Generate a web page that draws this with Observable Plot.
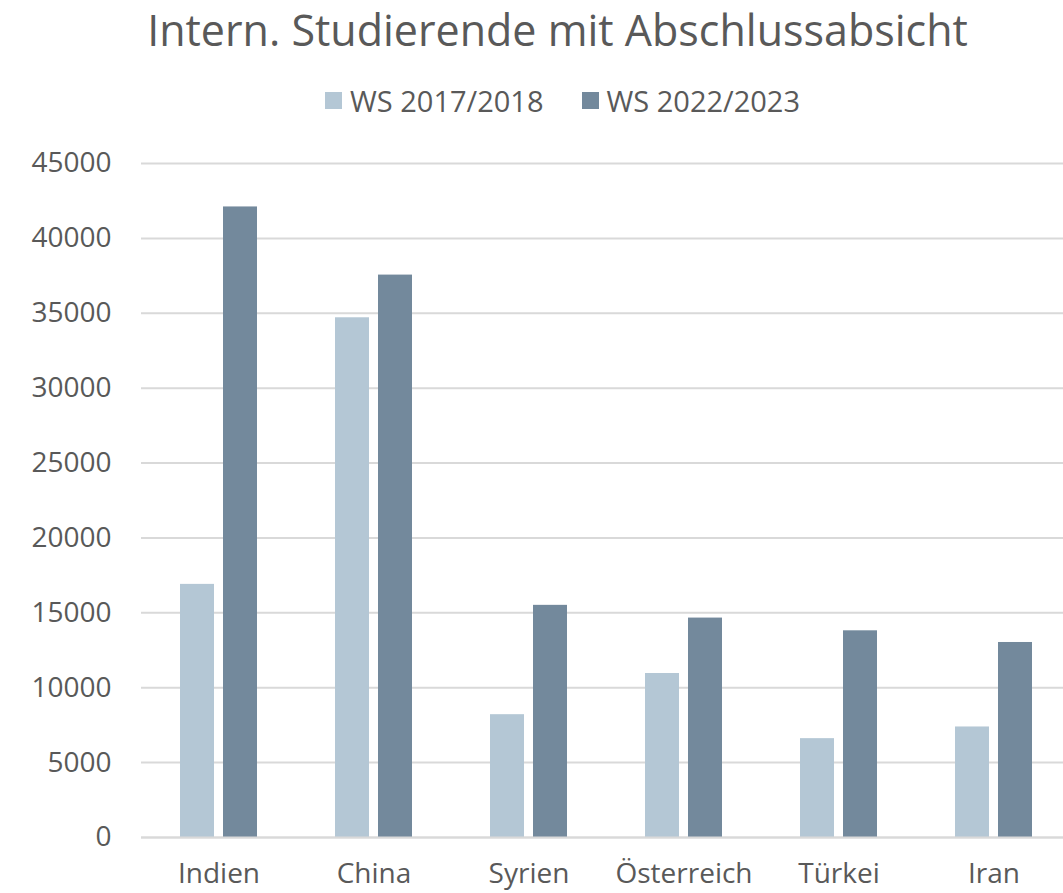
<!DOCTYPE html>
<html>
<head>
<meta charset="utf-8">
<script src="https://cdn.jsdelivr.net/npm/d3@7"></script>
<script src="https://cdn.jsdelivr.net/npm/@observablehq/plot@0.6"></script>
<style>
  html, body { margin: 0; padding: 0; background: #fff; }
  body { width: 1063px; height: 893px; position: relative; overflow: hidden; font-family: "Open Sans", sans-serif; color: #595959; }
  #title { position: absolute; top: 0px; left: 0; width: 1115px; text-align: center; font-size: 43px; white-space: nowrap; }
  #legend { position: absolute; top: 81px; left: 325px; font-size: 29px; white-space: nowrap; display: flex; align-items: center; }
  .sw { display: inline-block; width: 17px; height: 17px; margin-right: 8px; }
  .item { display: flex; align-items: center; margin-right: 38px; }
  #chart { position: absolute; top: 140px; left: 0; width: 1072px; }
  #chart svg { max-width: none !important; }
</style>
</head>
<body>
<div id="title">Intern. Studierende mit Abschlussabsicht</div>
<div id="legend"></div>
<div id="chart"></div>
<script>
const countries = ["Indien", "China", "Syrien", "Österreich", "Türkei", "Iran"];
const series = ["WS 2017/2018", "WS 2022/2023"];
const ws2017 = [16900, 34700, 8200, 10950, 6600, 7380];
const ws2022 = [42100, 37550, 15500, 14650, 13800, 13020];
const colors = ["#b4c7d5", "#73899c"];
const yTicks = [0, 5000, 10000, 15000, 20000, 25000, 30000, 35000, 40000, 45000];

const data = countries.flatMap((c, i) => [
  {country: c, series: series[0], value: ws2017[i]},
  {country: c, series: series[1], value: ws2022[i]}
]);

// legend
const legend = document.getElementById("legend");
series.forEach((s, i) => {
  const it = document.createElement("span");
  it.className = "item";
  const sw = document.createElement("span");
  sw.className = "sw";
  sw.style.background = colors[i];
  it.appendChild(sw);
  it.appendChild(document.createTextNode(s));
  legend.appendChild(it);
});

const chart = Plot.plot({
  width: 1072,
  height: 753,
  marginLeft: 140,
  marginRight: 0,
  marginTop: 23,
  marginBottom: 56,
  style: {fontFamily: "Open Sans, sans-serif", fontSize: "28px", color: "#595959", background: "white", overflow: "visible", maxWidth: "none"},
  fx: {domain: countries, paddingInner: 0, paddingOuter: 0, label: null, tickSize: 0, tickPadding: 26},
  x: {domain: series, paddingInner: 0.2, paddingOuter: 0.865, axis: null},
  y: {domain: [0, 45000], ticks: yTicks, tickFormat: d => String(d), tickSize: 0, tickPadding: 30, label: null},
  color: {domain: series, range: colors},
  marks: [
    Plot.ruleY(yTicks, {stroke: "#d9d9d9", strokeWidth: 2}),
    Plot.barY(data, {fx: "country", x: "series", y: "value", fill: "series"}),
    Plot.ruleY([0], {stroke: "#d9d9d9", strokeWidth: 2})
  ]
});
document.getElementById("chart").appendChild(chart);
</script>
</body>
</html>
